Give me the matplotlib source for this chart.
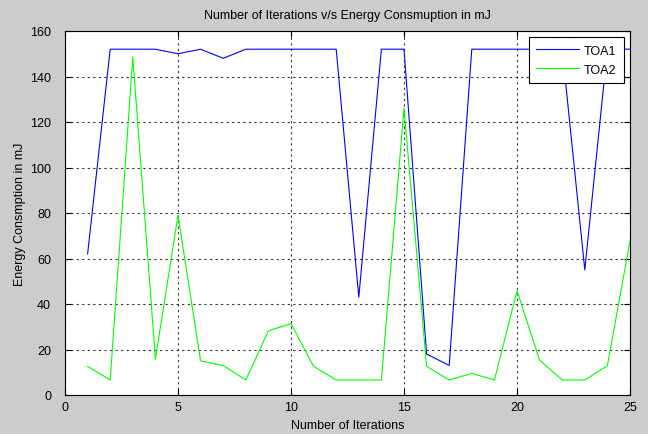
import matplotlib
matplotlib.use("Agg")
import matplotlib.pyplot as plt

iterations = list(range(1, 26))
toa1 = [62, 152, 152, 152, 150, 152, 148, 152, 152, 152, 152, 152, 43, 152, 152,
        18, 13, 152, 152, 152, 152, 152, 55, 152, 152]
toa2 = [12.6, 6.6, 148.5, 15.8, 79, 15, 12.9, 6.6, 28.2, 31.4, 12.6, 6.6, 6.6, 6.6, 126,
        12.6, 6.6, 9.5, 6.6, 45.8, 15.3, 6.6, 6.6, 12.9, 67.7]
xticks = [0, 5, 10, 15, 20, 25]
yticks = [0, 20, 40, 60, 80, 100, 120, 140, 160]

plt.rcParams['font.family'] = ['Liberation Sans', 'DejaVu Sans']
fig = plt.figure(figsize=(6.48, 4.35), dpi=100, facecolor='#cccccc')
ax = fig.add_axes([65/648, 39/435, 565/648, 364/435])
ax.set_facecolor('white')
ax.plot(iterations, toa1, color='#0000ff', lw=0.8, label='TOA1')
ax.plot(iterations, toa2, color='#00ff00', lw=0.8, label='TOA2')
ax.set_xlim(0, 25)
ax.set_ylim(0, 160)
ax.set_xticks(xticks)
ax.set_yticks(yticks)
ax.tick_params(direction='in', labelsize=9, length=4, top=True, right=True)
ax.tick_params(axis='y', pad=10)
ax.tick_params(axis='x', pad=4)
ax.grid(True, color='#333333', linestyle=(0, (2, 3)), lw=0.8)
for s in ax.spines.values():
    s.set_linewidth(0.8)
ax.set_title('Number of Iterations v/s Energy Consmuption in mJ', fontsize=9, pad=9)
ax.set_xlabel('Number of Iterations', fontsize=9, labelpad=5)
ax.set_ylabel('Energy Consmption in mJ', fontsize=9, labelpad=3)
leg = ax.legend(loc='upper right', fontsize=9, fancybox=False, framealpha=1,
                edgecolor='black', borderaxespad=0.5, handlelength=3.4,
                labelspacing=0.55, borderpad=0.6, handletextpad=0.4)
leg.get_frame().set_linewidth(0.8)
fig.savefig('out.png', dpi=100, facecolor=fig.get_facecolor())
